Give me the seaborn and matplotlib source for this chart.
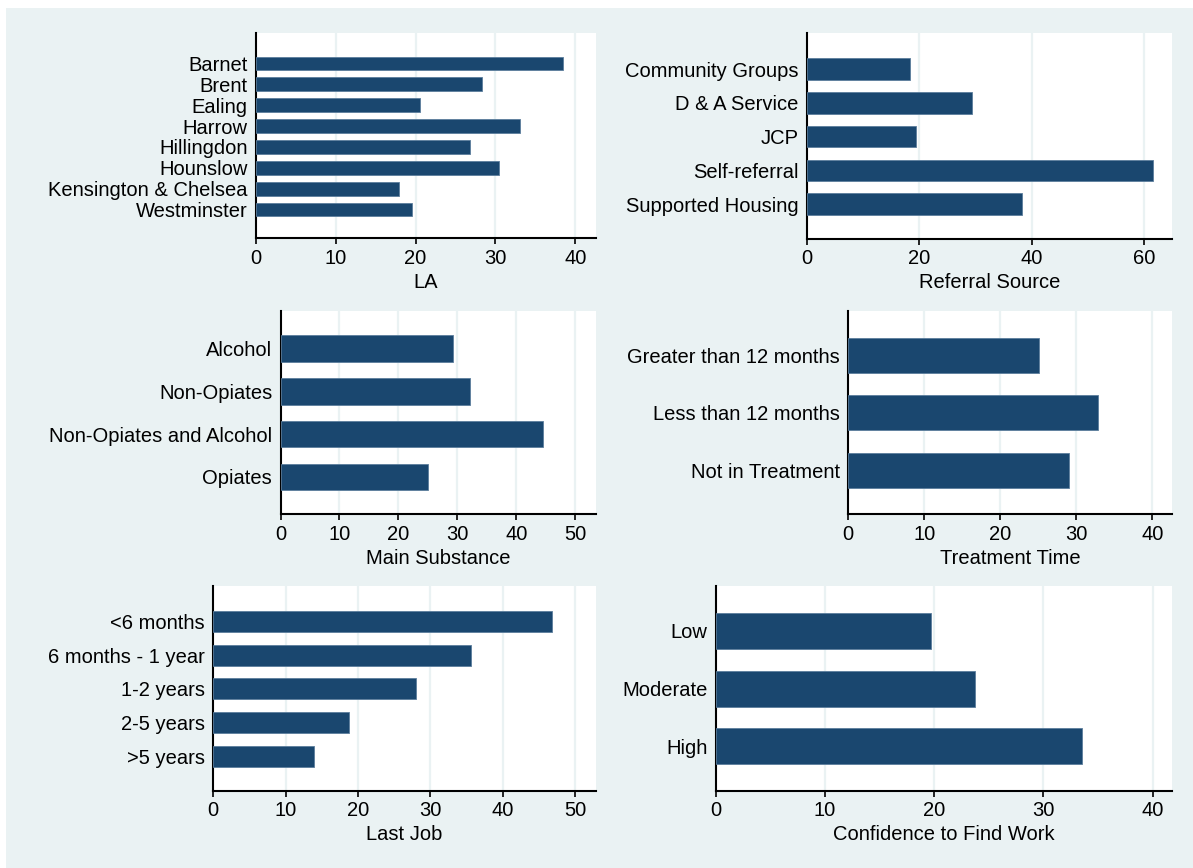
import matplotlib
matplotlib.use("Agg")
import matplotlib.pyplot as plt
from matplotlib.patches import Rectangle
import seaborn as sns
import pandas as pd

# ---- data -------------------------------------------------------------
la_names = ["Barnet", "Brent", "Ealing", "Harrow", "Hillingdon", "Hounslow",
            "Kensington & Chelsea", "Westminster"]
la_values = [38.5, 28.3, 20.5, 33.1, 26.8, 30.4, 17.9, 19.6]

referral_names = ["Community Groups", "D & A Service", "JCP", "Self-referral",
                  "Supported Housing"]
referral_values = [18.3, 29.4, 19.5, 61.6, 38.2]

substance_names = ["Alcohol", "Non-Opiates", "Non-Opiates and Alcohol", "Opiates"]
substance_values = [29.2, 32.1, 44.6, 25.1]

treatment_names = ["Greater than 12 months", "Less than 12 months",
                   "Not in Treatment"]
treatment_values = [25.1, 32.9, 29.0]

lastjob_names = ["<6 months", "6 months - 1 year", "1-2 years", "2-5 years",
                 ">5 years"]
lastjob_values = [46.8, 35.7, 28.1, 18.8, 13.9]

confidence_names = ["Low", "Moderate", "High"]
confidence_values = [19.7, 23.7, 33.5]

titles = ["LA", "Referral Source", "Main Substance", "Treatment Time",
          "Last Job", "Confidence to Find Work"]
x_ticks = [[0, 10, 20, 30, 40], [0, 20, 40, 60], [0, 10, 20, 30, 40, 50],
           [0, 10, 20, 30, 40], [0, 10, 20, 30, 40, 50], [0, 10, 20, 30, 40]]

# ---- style ------------------------------------------------------------
sns.set_theme(style="white")
plt.rcParams["font.family"] = ["Liberation Sans", "DejaVu Sans"]
FS = 14.5
BAR = "#1a476f"
BG = "#eaf2f3"

W, H = 1193, 868
fig = plt.figure(figsize=(W / 100, H / 100), dpi=100)
fig.patch.set_facecolor("white")
fig.patches.append(Rectangle((6 / W, 0), 1 - 6 / W, 1 - 8 / H,
                             transform=fig.transFigure, facecolor=BG,
                             edgecolor="none", zorder=-10))

# panel boxes in pixels: left, right, top, bottom
boxes = [(256, 596, 33.3, 238.3), (806.9, 1172.2, 33.3, 238.7),
         (280.5, 595.9, 310.7, 514.3), (848.1, 1172.2, 310.7, 514.3),
         (213.2, 595.9, 586, 790.7), (715.7, 1172.2, 586, 790.7)]
# x upper limit, top / bottom category padding, bar thickness
xmax = [42.6, 65.0, 53.5, 42.6, 52.9, 41.8]
pads = [(1.44, 1.37), (1.06, 1.02), (0.89, 0.88), (0.77, 0.76),
        (1.04, 1.01), (0.78, 0.77)]
widths = [0.65, 0.64, 0.62, 0.61, 0.62, 0.62]

panels = [(la_names, la_values), (referral_names, referral_values),
          (substance_names, substance_values),
          (treatment_names, treatment_values),
          (lastjob_names, lastjob_values),
          (confidence_names, confidence_values)]

for i, (names, vals) in enumerate(panels):
    l, r, t, b = boxes[i]
    ax = fig.add_axes([l / W, 1 - b / H, (r - l) / W, (b - t) / H])
    ax.set_facecolor("white")
    df = pd.DataFrame({"cat": names, "val": vals})
    sns.barplot(data=df, x="val", y="cat", orient="h", color=BAR,
                saturation=1, width=widths[i], edgecolor="#5b7d9c",
                linewidth=0.6, ax=ax, zorder=3)
    n = len(names)
    ax.set_ylim(n - 1 + pads[i][1], -pads[i][0])
    ax.set_xlim(0, xmax[i])
    ax.set_xticks(x_ticks[i])
    ax.set_xticklabels([str(v) for v in x_ticks[i]])
    for v in x_ticks[i][1:]:
        ax.axvline(v, color=BG, lw=1.6, zorder=1)
    ax.set_xlabel(titles[i], fontsize=FS, labelpad=3.5, color="black")
    ax.set_ylabel("")
    for s in ("top", "right"):
        ax.spines[s].set_visible(False)
    for s in ("left", "bottom"):
        ax.spines[s].set_color("black")
        ax.spines[s].set_linewidth(1.5)
    ax.tick_params(axis="x", bottom=True, length=4.5, width=1.2,
                   labelsize=FS, pad=3, colors="black")
    ax.tick_params(axis="y", left=False, length=0, labelsize=FS, pad=6,
                   colors="black")
    ax.grid(False)

fig.savefig("out.png", dpi=100, facecolor="white")
